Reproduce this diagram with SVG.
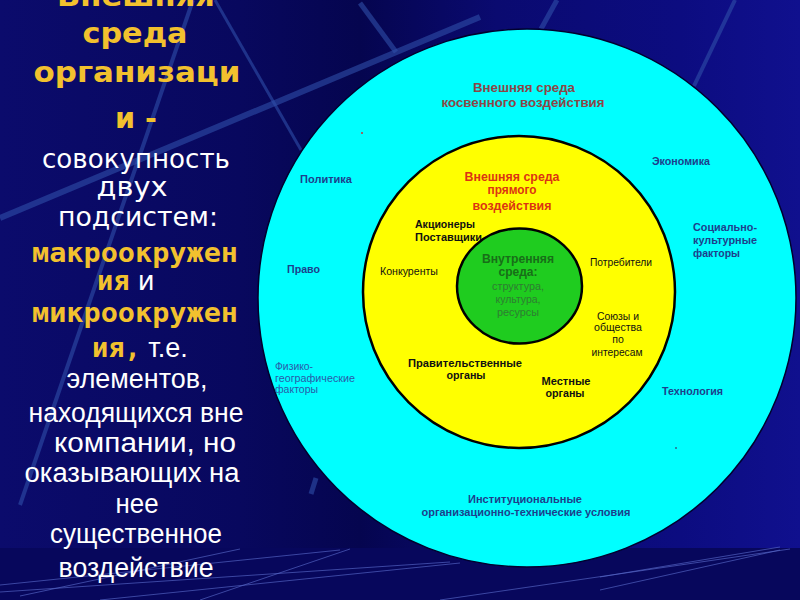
<svg xmlns="http://www.w3.org/2000/svg" width="800" height="600" viewBox="0 0 800 600">
<defs>
<linearGradient id="bgG" x1="0" y1="0" x2="1" y2="0">
<stop offset="0" stop-color="#0b0b6c"/>
<stop offset="0.3" stop-color="#08085e"/>
<stop offset="0.45" stop-color="#05054f"/>
<stop offset="0.62" stop-color="#0a0a70"/>
<stop offset="0.85" stop-color="#0c0c80"/>
<stop offset="1" stop-color="#10108e"/>
</linearGradient>
<linearGradient id="hl" x1="0" y1="0" x2="1" y2="0">
<stop offset="0" stop-color="#9a9a90" stop-opacity="0.2"/>
<stop offset="0.3" stop-color="#c8c8b8"/>
<stop offset="0.7" stop-color="#a0a0a0"/>
<stop offset="1" stop-color="#707080" stop-opacity="0.4"/>
</linearGradient>
<style>
.thick{stroke:#2f4fa8;fill:none;stroke-opacity:0.6}
.thin{stroke:#5868c8;stroke-width:1;fill:none;stroke-opacity:0.65}
.tt{font-family:"DejaVu Sans",Verdana,sans-serif;font-weight:bold;font-size:28px;fill:#f2c12e;text-anchor:middle}
.wv{font-family:"DejaVu Sans",Verdana,sans-serif;font-size:26px;fill:#ffffff;text-anchor:middle}
.wa{font-family:"Liberation Sans",Arial,sans-serif;font-size:27px;fill:#ffffff;text-anchor:middle}
.gm{font-family:"DejaVu Sans Mono",monospace;font-weight:bold;font-size:27px;fill:#f2c12e}
.lb{font-family:"Liberation Sans",Arial,sans-serif;font-weight:bold;font-size:11px;fill:#1d3f8c}
.lr{font-family:"Liberation Sans",Arial,sans-serif;font-size:10.5px;fill:#2a5aa8}
.bk{font-family:"Liberation Sans",Arial,sans-serif;font-weight:bold;font-size:11.5px;fill:#111111}
.bkr{font-family:"Liberation Sans",Arial,sans-serif;font-size:10.5px;fill:#111111}
.mid{text-anchor:middle}
.ttl{font-family:"Liberation Sans",Arial,sans-serif;font-weight:bold;font-size:12.5px;text-anchor:middle}
.gb{font-family:"Liberation Sans",Arial,sans-serif;font-weight:bold;font-size:12px;fill:#186e18;text-anchor:middle}
.gr{font-family:"Liberation Sans",Arial,sans-serif;font-size:10.5px;fill:#2e7d32;text-anchor:middle}
</style>
</defs>

<g id="background">
<rect x="0" y="0" width="800" height="600" fill="url(#bgG)"/>
<rect x="0" y="548" width="800" height="52" fill="#07075c"/>
<line class="thick" x1="193" y1="0" x2="20" y2="505" stroke-width="4"/>
<line class="thick" x1="0" y1="218" x2="480" y2="17" stroke-width="6"/>
<line class="thick" x1="215" y1="0" x2="301" y2="150" stroke-width="3"/>
<line class="thick" x1="360" y1="3" x2="396" y2="52" stroke-width="5"/>
<line class="thick" x1="557" y1="0" x2="541" y2="29" stroke-width="5"/>
<line class="thick" x1="735" y1="0" x2="694" y2="86" stroke-width="4"/>
<line class="thick" x1="316" y1="478" x2="311" y2="494" stroke-width="5"/>
<line class="thin" x1="20" y1="596" x2="240" y2="549"/>
<line class="thin" x1="0" y1="585" x2="340" y2="550"/>
<line class="thin" x1="0" y1="592" x2="450" y2="562"/>
<line class="thin" x1="200" y1="600" x2="350" y2="549"/>
<line class="thin" x1="100" y1="600" x2="460" y2="563"/>
<line class="thin" x1="440" y1="600" x2="790" y2="549"/>
<line class="thin" x1="600" y1="577" x2="780" y2="547"/>
<line class="thin" x1="600" y1="590" x2="780" y2="550"/>
<line x1="0" y1="548" x2="800" y2="548" stroke="url(#hl)" stroke-width="2"/>
</g>

<g id="title">
<text class="tt" x="136" y="6" textLength="158" lengthAdjust="spacingAndGlyphs">Внешняя</text>
<text class="tt" x="135" y="43" textLength="105" lengthAdjust="spacingAndGlyphs">среда</text>
<text class="tt" x="137" y="82" textLength="207" lengthAdjust="spacingAndGlyphs">организаци</text>
<text class="tt" x="136" y="128" textLength="42" lengthAdjust="spacingAndGlyphs">и -</text>
</g>

<g id="definition">
<text class="wv" x="136" y="168" textLength="188" lengthAdjust="spacingAndGlyphs">совокупность</text>
<text class="wv" x="132" y="196" textLength="71" lengthAdjust="spacingAndGlyphs">двух</text>
<text class="wv" x="138" y="226" textLength="160" lengthAdjust="spacingAndGlyphs">подсистем:</text>
<text class="gm" x="32" y="262" textLength="206" lengthAdjust="spacingAndGlyphs">макроокружен</text>
<text x="97" y="290"><tspan class="gm">ия</tspan><tspan font-family="DejaVu Sans, Verdana, sans-serif" font-size="26" fill="#ffffff"> и</tspan></text>
<text class="gm" x="32" y="322" textLength="206" lengthAdjust="spacingAndGlyphs">микроокружен</text>
<text x="92" y="357"><tspan class="gm">ия,</tspan><tspan font-family="Liberation Sans, Arial, sans-serif" font-size="27" fill="#ffffff"> т.е.</tspan></text>
<text class="wa" x="137" y="388" textLength="141" lengthAdjust="spacingAndGlyphs">элементов,</text>
<text class="wa" x="136" y="422" textLength="215" lengthAdjust="spacingAndGlyphs">находящихся вне</text>
<text class="wa" x="145" y="452" textLength="182" lengthAdjust="spacingAndGlyphs">компании, но</text>
<text class="wa" x="132" y="482" textLength="215" lengthAdjust="spacingAndGlyphs">оказывающих на</text>
<text class="wa" x="137" y="513" textLength="43" lengthAdjust="spacingAndGlyphs">нее</text>
<text class="wa" x="136" y="543" textLength="172" lengthAdjust="spacingAndGlyphs">существенное</text>
<text class="wa" x="136" y="577" textLength="155" lengthAdjust="spacingAndGlyphs">воздействие</text>
</g>

<g id="outer-environment">
<circle cx="527" cy="298" r="269" fill="#00ffff" stroke="#00002e" stroke-width="1.5"/>
<text class="ttl" x="524" y="92" fill="#8c4646" textLength="102" lengthAdjust="spacingAndGlyphs">Внешняя среда</text>
<text class="ttl" x="523" y="107" fill="#8c4646" textLength="163" lengthAdjust="spacingAndGlyphs">косвенного воздействия</text>
<circle cx="362" cy="133" r="1" fill="#cc3333"/>
<circle cx="676" cy="448" r="1" fill="#2a6a8a"/>
<text class="lb" x="300" y="183" textLength="52" lengthAdjust="spacingAndGlyphs">Политика</text>
<text class="lb" x="287" y="273" textLength="33" lengthAdjust="spacingAndGlyphs">Право</text>
<text class="lr" x="275" y="370" textLength="38" lengthAdjust="spacingAndGlyphs">Физико-</text>
<text class="lr" x="275" y="382" textLength="80" lengthAdjust="spacingAndGlyphs">географические</text>
<text class="lr" x="275" y="393" textLength="43" lengthAdjust="spacingAndGlyphs">факторы</text>
<text class="lb" x="652" y="165" textLength="58" lengthAdjust="spacingAndGlyphs">Экономика</text>
<text class="lb" x="693" y="231" textLength="64" lengthAdjust="spacingAndGlyphs">Социально-</text>
<text class="lb" x="693" y="244" textLength="64" lengthAdjust="spacingAndGlyphs">культурные</text>
<text class="lb" x="693" y="257" textLength="47" lengthAdjust="spacingAndGlyphs">факторы</text>
<text class="lb" x="662" y="395" textLength="61" lengthAdjust="spacingAndGlyphs">Технология</text>
<text class="lb mid" x="525" y="503" textLength="114" lengthAdjust="spacingAndGlyphs">Институциональные</text>
<text class="lb mid" x="526" y="516" textLength="209" lengthAdjust="spacingAndGlyphs">организационно-технические условия</text>
</g>

<g id="direct-environment">
<circle cx="519" cy="292" r="156" fill="#ffff00" stroke="#000000" stroke-width="2.5"/>
<text class="ttl" x="512" y="181" fill="#dc3412" textLength="95" lengthAdjust="spacingAndGlyphs">Внешняя среда</text>
<text class="ttl" x="512" y="194" fill="#dc3412" textLength="49" lengthAdjust="spacingAndGlyphs">прямого</text>
<text class="ttl" x="512" y="210" fill="#dc3412" textLength="79" lengthAdjust="spacingAndGlyphs">воздействия</text>
<text class="bk" x="415" y="228" textLength="60" lengthAdjust="spacingAndGlyphs">Акционеры</text>
<text class="bk" x="415" y="241" textLength="67" lengthAdjust="spacingAndGlyphs">Поставщики</text>
<text class="bkr" x="380" y="275" textLength="58" lengthAdjust="spacingAndGlyphs">Конкуренты</text>
<text class="bkr" x="590" y="266" textLength="62" lengthAdjust="spacingAndGlyphs">Потребители</text>
<text class="bkr mid" x="618" y="320" textLength="42" lengthAdjust="spacingAndGlyphs">Союзы и</text>
<text class="bkr mid" x="618" y="331" textLength="48" lengthAdjust="spacingAndGlyphs">общества</text>
<text class="bkr mid" x="618" y="343">по</text>
<text class="bkr mid" x="617" y="356" textLength="51" lengthAdjust="spacingAndGlyphs">интересам</text>
<text class="bk mid" x="465" y="367" textLength="114" lengthAdjust="spacingAndGlyphs">Правительственные</text>
<text class="bk mid" x="466" y="379" textLength="39" lengthAdjust="spacingAndGlyphs">органы</text>
<text class="bk mid" x="566" y="385" textLength="49" lengthAdjust="spacingAndGlyphs">Местные</text>
<text class="bk mid" x="565" y="397" textLength="39" lengthAdjust="spacingAndGlyphs">органы</text>
</g>

<g id="internal-environment">
<ellipse cx="519.5" cy="286" rx="62.5" ry="57.5" fill="#1fcc1f" stroke="#000000" stroke-width="2.5"/>
<text class="gb" x="518" y="263" textLength="72" lengthAdjust="spacingAndGlyphs">Внутренняя</text>
<text class="gb" x="518" y="276" textLength="39" lengthAdjust="spacingAndGlyphs">среда:</text>
<text class="gr" x="518" y="290" textLength="52" lengthAdjust="spacingAndGlyphs">структура,</text>
<text class="gr" x="518" y="303" textLength="45" lengthAdjust="spacingAndGlyphs">культура,</text>
<text class="gr" x="518" y="316" textLength="42" lengthAdjust="spacingAndGlyphs">ресурсы</text>
</g>
</svg>
